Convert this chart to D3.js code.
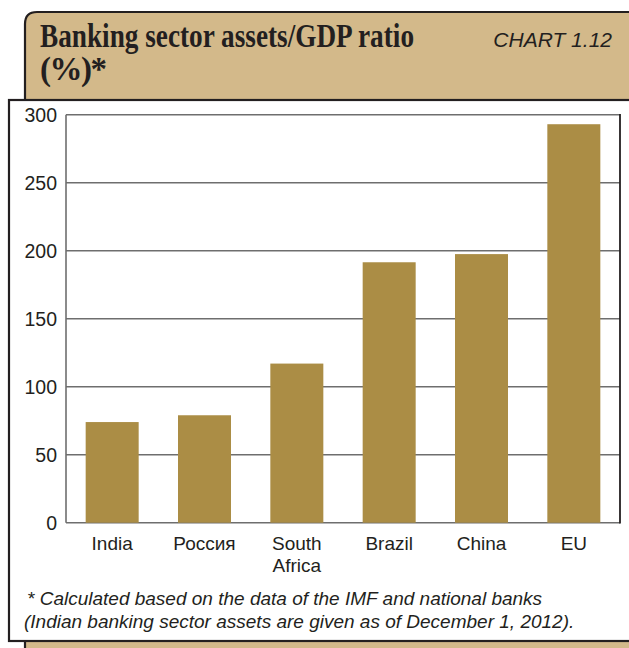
<!DOCTYPE html>
<html><head><meta charset="utf-8">
<script src="https://cdn.jsdelivr.net/npm/d3@7"></script>
<style>body{margin:0;background:#fff;}svg{display:block;}</style>
</head><body>
<script>
const categories = ["India", "Россия", "South Africa", "Brazil", "China", "EU"];
const values = [74, 79, 117, 191.5, 197.5, 293];
const yTicks = [0, 50, 100, 150, 200, 250, 300];
const titleLines = ["Banking sector assets/GDP ratio", "(%)*"];
const chartLabel = "CHART 1.12";
const footnote = ["* Calculated based on the data of the IMF and national banks",
                  "(Indian banking sector assets are given as of December 1, 2012)."];

const W = 629, H = 648;
const tan = "#d3b98a", dark = "#231f20", barColor = "#ab8d45";
const sans = "Liberation Sans, Arial, sans-serif";
const svg = d3.select("body").append("svg").attr("width", W).attr("height", H);

// header tan box (extends beyond right and bottom)
svg.append("path")
  .attr("d", `M25,${H+10} L25,24 Q25,12 37,12 L${W+10},12 L${W+10},${H+10} Z`)
  .attr("fill", tan).attr("stroke", dark).attr("stroke-width", 2.2);

// title
const title = svg.append("text").attr("font-family", "Liberation Serif, Times New Roman, serif")
  .attr("font-weight", "bold").attr("font-size", 33).attr("fill", dark);
title.append("tspan").attr("x", 40).attr("y", 47).text(titleLines[0])
  .attr("textLength", 374).attr("lengthAdjust", "spacingAndGlyphs");
title.append("tspan").attr("x", 40).attr("y", 80).text(titleLines[1])
  .attr("textLength", 67).attr("lengthAdjust", "spacing");

svg.append("text").attr("x", 612).attr("y", 47).attr("text-anchor", "end")
  .attr("font-family", sans).attr("font-style", "italic")
  .attr("font-size", 21).attr("fill", dark).text(chartLabel);

// white panel
svg.append("rect").attr("x", 9).attr("y", 100).attr("width", W + 20).attr("height", 541)
  .attr("fill", "#fff").attr("stroke", dark).attr("stroke-width", 2.2);

// plot
const x = d3.scaleBand().domain(categories).range([66, 620]).paddingInner(0.426).paddingOuter(0.213);
const y = d3.scaleLinear().domain([0, 300]).range([522.7, 114.7]);

const g = svg.append("g");
g.selectAll("line.grid").data(yTicks).join("line").attr("class", "grid")
  .attr("x1", 66).attr("x2", 620).attr("y1", d => y(d)).attr("y2", d => y(d))
  .attr("stroke", "#6e6e6e").attr("stroke-width", 1.6);
g.append("line").attr("x1", 66).attr("x2", 66).attr("y1", y(300)).attr("y2", y(0))
  .attr("stroke", "#6e6e6e").attr("stroke-width", 1.6);
g.append("line").attr("x1", 620).attr("x2", 620).attr("y1", y(300) - 0.8).attr("y2", y(0) + 0.8)
  .attr("stroke", dark).attr("stroke-width", 1.8);

g.selectAll("rect.bar").data(values).join("rect").attr("class", "bar")
  .attr("x", (d, i) => x(categories[i])).attr("width", x.bandwidth())
  .attr("y", d => y(d)).attr("height", d => y(0) - y(d)).attr("fill", barColor);

// y axis labels
const yAxis = d3.axisLeft(y).tickValues(yTicks).tickSize(0).tickPadding(9);
const ya = svg.append("g").attr("transform", "translate(66,0)").call(yAxis);
ya.select(".domain").remove();
ya.selectAll("text").attr("font-family", sans)
  .attr("font-size", 19.5).attr("fill", dark).attr("dy", "0.36em");

// x axis labels
const xAxis = d3.axisBottom(x).tickSize(0).tickPadding(0);
const xa = svg.append("g").attr("transform", `translate(0,${y(0)})`).call(xAxis);
xa.select(".domain").remove();
xa.selectAll(".tick text").each(function(d) {
  const t = d3.select(this);
  t.text(null).attr("y", 0).attr("dy", null)
   .attr("font-family", sans).attr("font-size", 19).attr("fill", dark);
  const words = d === "South Africa" ? ["South", "Africa"] : [d];
  words.forEach((w, i) => t.append("tspan").attr("x", 0).attr("y", 27 + i * 22).text(w));
});

// footnote
const fn = svg.append("text").attr("font-family", sans)
  .attr("font-style", "italic").attr("font-size", 19).attr("fill", dark);
fn.append("tspan").attr("x", 27).attr("y", 605).text(footnote[0]);
fn.append("tspan").attr("x", 24).attr("y", 628).text(footnote[1]);
</script>
</body></html>
